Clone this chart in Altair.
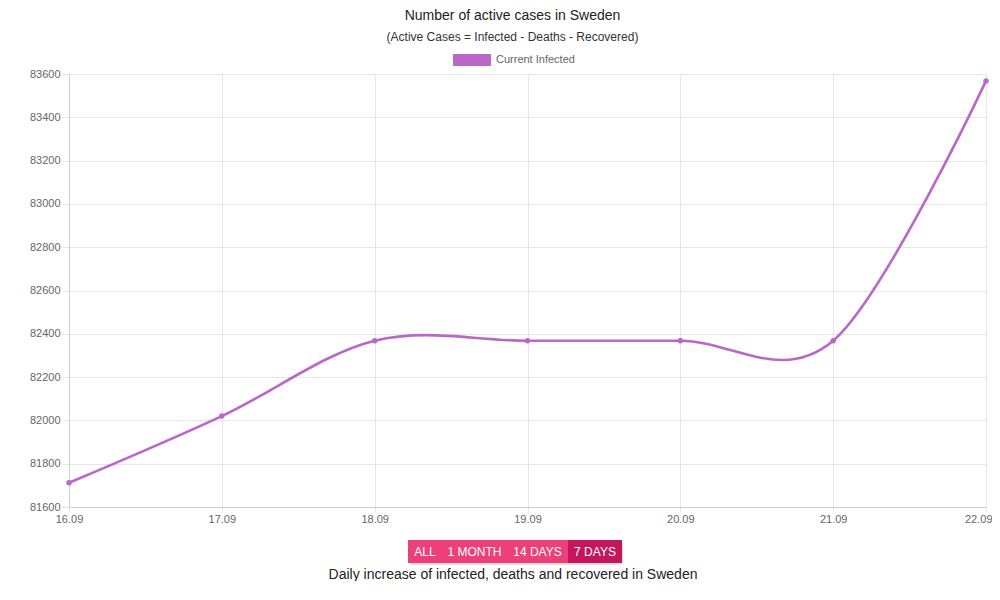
import altair as alt
import pandas as pd

dates = ["16.09", "17.09", "18.09", "19.09", "20.09", "21.09", "22.09"]
active = [81712, 82020, 82368, 82368, 82368, 82368, 83568]
series_name = "Current Infected"
y_ticks = [81600, 81800, 82000, 82200, 82400, 82600, 82800, 83000, 83200, 83400, 83600]
buttons = ["ALL", "1 MONTH", "14 DAYS", "7 DAYS"]
footer_text = "Daily increase of infected, deaths and recovered in Sweden"

FONT = "Liberation Sans"
PURPLE = "#BA68C8"

df = pd.DataFrame({"date": dates, "value": active, "series": [series_name] * len(dates)})

W, H = 917, 433
last_label = dates[-1]

base = alt.Chart(df).encode(
    x=alt.X(
        "date:N",
        sort=dates,
        scale=alt.Scale(type="point", padding=0),
        axis=alt.Axis(
            title=None, labelAngle=0, labelFontSize=11, labelColor="#666",
            labelFont=FONT, grid=True, gridColor="#e6e6e6", domainColor="#cfcfcf",
            tickColor="#e6e6e6", tickSize=5, labelPadding=1,
            labelAlign={"condition": {"test": f"datum.label == '{last_label}'", "value": "right"}, "value": "center"},
            labelOffset={"condition": {"test": f"datum.label == '{last_label}'", "value": 6}, "value": 0},
        ),
    ),
    y=alt.Y(
        "value:Q",
        scale=alt.Scale(domain=[81600, 83600], nice=False, zero=False),
        axis=alt.Axis(
            title=None, values=y_ticks, format="d", labelFontSize=11, labelColor="#666",
            labelFont=FONT, gridColor="#e6e6e6", domainColor="#cfcfcf",
            tickColor="#e6e6e6", tickSize=7, labelPadding=2,
        ),
    ),
    color=alt.Color(
        "series:N",
        scale=alt.Scale(domain=[series_name], range=[PURPLE]),
        legend=alt.Legend(
            title=None, orient="none", legendX=397, legendY=-20,
            symbolType="M-3.1667,-1H3.1667V1H-3.1667Z", symbolSize=144,
            symbolStrokeWidth=0, symbolOpacity=1, labelFont=FONT, labelFontSize=11,
            labelColor="#666", labelOffset=18,
        ),
    ),
)

line = base.mark_line(interpolate="cardinal", strokeWidth=2.6)
points = base.mark_circle(size=30, opacity=1)

layers = [line, points]

# range-selector buttons below the chart
btn_x = [(339, 373), (373, 438), (438, 499), (499, 553)]
btn_colors = ["#EC407A", "#EC407A", "#EC407A", "#C2185B"]
shadow = alt.Chart(pd.DataFrame({"b": ["shadow"]})).mark_rect(
    color="#000", opacity=0.12, cornerRadius=3
).encode(x=alt.value(btn_x[0][0] + 1), x2=alt.value(btn_x[-1][1] + 1), y=alt.value(468), y2=alt.value(491))
layers.append(shadow)
for i, lab in enumerate(buttons):
    bdf = pd.DataFrame({"label": [lab]})
    x0, x1 = btn_x[i]
    rect = alt.Chart(bdf).mark_rect(color=btn_colors[i]).encode(
        x=alt.value(x0), x2=alt.value(x1), y=alt.value(466), y2=alt.value(489)
    )
    txt = alt.Chart(bdf).mark_text(
        color="white", font=FONT, fontSize=12, align="center", baseline="middle"
    ).encode(text="label:N", x=alt.value((x0 + x1) / 2), y=alt.value(478))
    layers += [rect, txt]

footer = alt.Chart(pd.DataFrame({"t": [footer_text]})).mark_text(
    font=FONT, fontSize=14, color="#222", align="center", baseline="top"
).encode(text="t:N", x=alt.value(444), y=alt.value(494))
layers.append(footer)

chart = alt.layer(*layers).properties(
    width=W,
    height=H,
    autosize=alt.AutoSizeParams(type="none"),
    padding={"left": 61, "right": 6, "top": 66, "bottom": 74},
    title=alt.TitleParams(
        "Number of active cases in Sweden",
        subtitle="(Active Cases = Infected - Deaths - Recovered)",
        font=FONT, fontSize=14, fontWeight="normal", color="#222",
        subtitleFont=FONT, subtitleFontSize=12, subtitleColor="#333",
        subtitlePadding=9, offset=11, anchor="middle", dx=-15,
    ),
).configure_view(stroke="#e6e6e6")

chart.save("out.html", embed_options={"renderer": "svg", "actions": False})
